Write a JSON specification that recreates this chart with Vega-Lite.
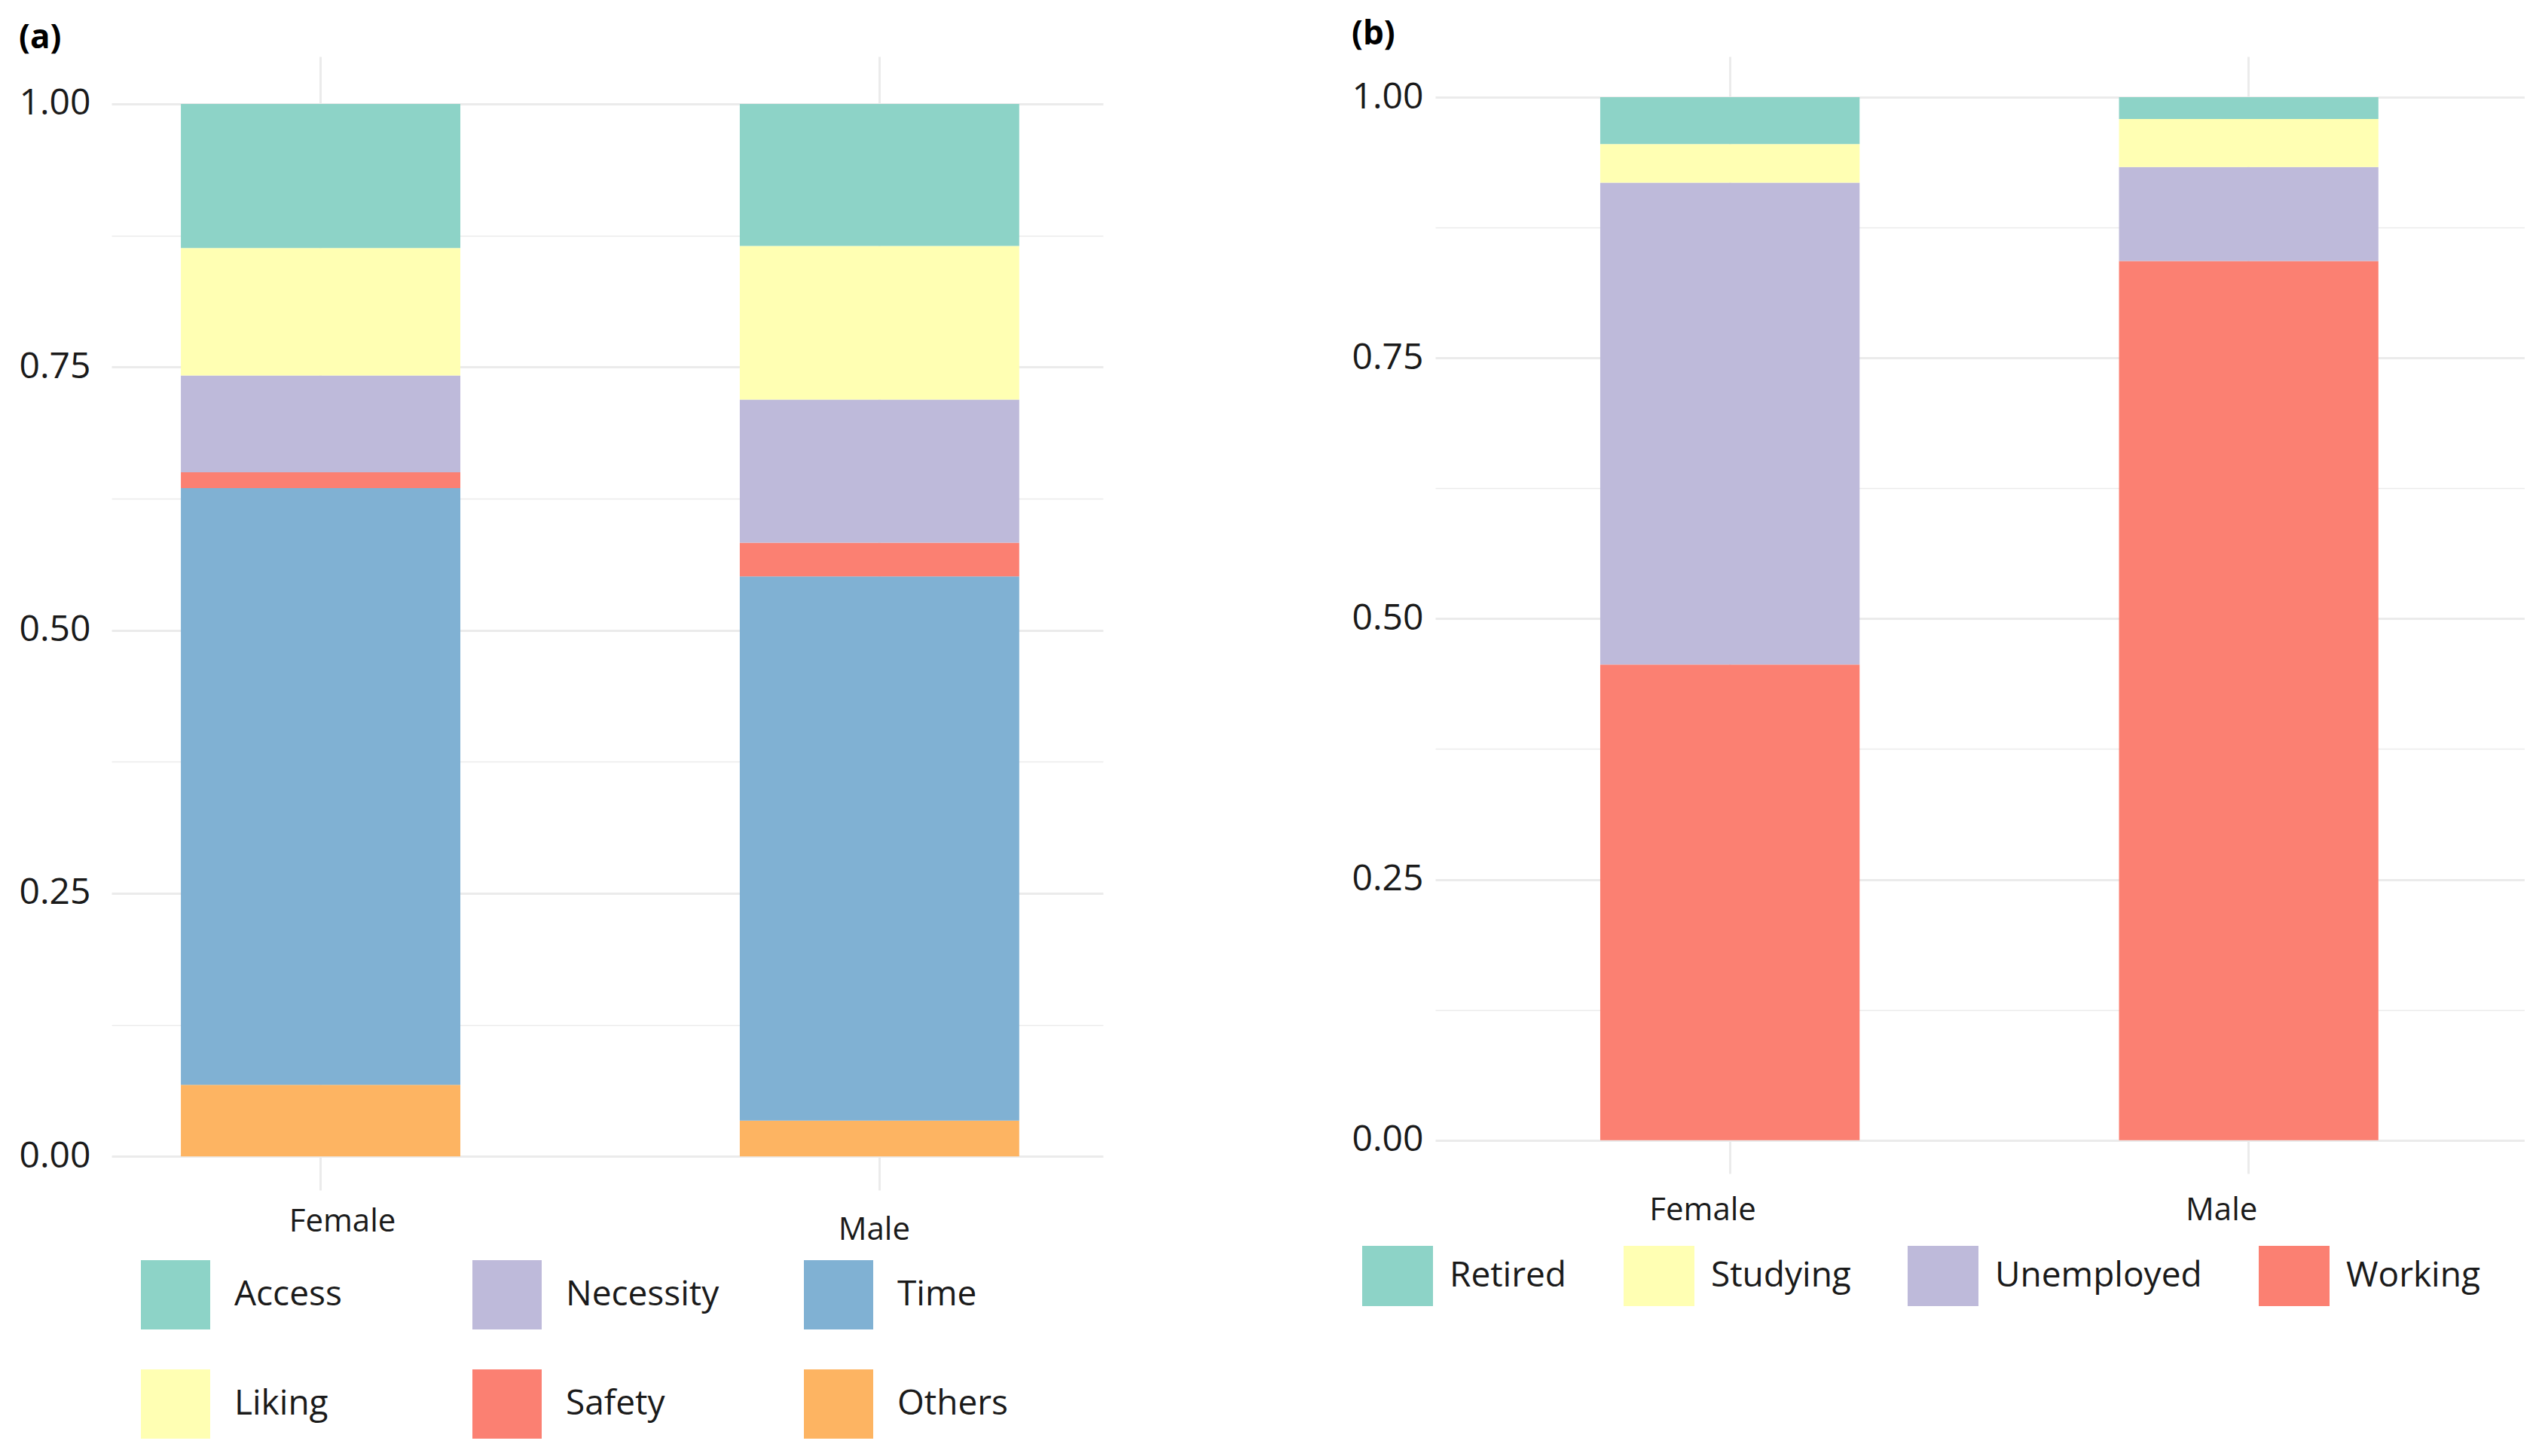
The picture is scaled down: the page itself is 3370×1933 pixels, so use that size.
{
  "$schema": "https://vega.github.io/schema/vega-lite/v6.json",
  "background": "white",
  "padding": {"left": 25, "top": 24, "right": 0, "bottom": 0},
  "spacing": 330,
  "resolve": {
    "scale": {"color": "independent"},
    "legend": {"color": "independent"}
  },
  "config": {
    "view": {"stroke": null},
    "font": "Open Sans",
    "axis": {
      "domain": false,
      "ticks": false,
      "labelFont": "Open Sans",
      "labelColor": "#1a1a1a",
      "gridColor": "#EBEBEB",
      "title": null
    },
    "legend": {
      "labelFont": "Open Sans",
      "labelColor": "#1a1a1a",
      "labelLimit": 500,
      "padding": 0
    },
    "title": {
      "font": "Open Sans",
      "fontSize": 44,
      "fontWeight": "bold",
      "color": "#000000",
      "anchor": "start",
      "frame": "bounds"
    }
  },
  "hconcat": [
    {
      "title": {"text": "(a)", "offset": 2},
      "width": 1316,
      "height": 1505,
      "data": {
        "values": [
          {"gender": "Female", "reason": "Others", "stack_order": 1, "share": 0.068},
          {"gender": "Female", "reason": "Time", "stack_order": 2, "share": 0.567},
          {"gender": "Female", "reason": "Safety", "stack_order": 3, "share": 0.015},
          {"gender": "Female", "reason": "Necessity", "stack_order": 4, "share": 0.092},
          {"gender": "Female", "reason": "Liking", "stack_order": 5, "share": 0.121},
          {"gender": "Female", "reason": "Access", "stack_order": 6, "share": 0.137},
          {"gender": "Male", "reason": "Others", "stack_order": 1, "share": 0.034},
          {"gender": "Male", "reason": "Time", "stack_order": 2, "share": 0.517},
          {"gender": "Male", "reason": "Safety", "stack_order": 3, "share": 0.032},
          {"gender": "Male", "reason": "Necessity", "stack_order": 4, "share": 0.136},
          {"gender": "Male", "reason": "Liking", "stack_order": 5, "share": 0.146},
          {"gender": "Male", "reason": "Access", "stack_order": 6, "share": 0.135}
        ]
      },
      "mark": {"type": "bar"},
      "encoding": {
        "x": {
          "field": "gender",
          "type": "nominal",
          "scale": {"paddingInner": 0.5, "paddingOuter": 0.137, "align": 0.453},
          "axis": {
            "labelAngle": 0,
            "labelFontSize": 42,
            "labelPadding": {"condition": {"test": "datum.value === 'Female'", "value": 21}, "value": 32},
            "labelOffset": {"condition": {"test": "datum.value === 'Female'", "value": 29}, "value": -7},
            "bandPosition": 0.5,
            "grid": true,
            "gridWidth": 3
          },
          "title": null
        },
        "y": {
          "field": "share",
          "type": "quantitative",
          "stack": "zero",
          "scale": {"domain": [-0.032, 1.045], "nice": false, "zero": false},
          "axis": {
            "values": [0, 0.125, 0.25, 0.375, 0.5, 0.625, 0.75, 0.875, 1],
            "labelExpr": "(datum.value * 4) % 1 === 0 ? format(datum.value, '.2f') : ''",
            "labelFontSize": 48,
            "labelPadding": 28,
            "gridWidth": {"condition": {"test": "(datum.value * 4) % 1 !== 0", "value": 1.5}, "value": 3}
          },
          "title": null
        },
        "color": {
          "field": "reason",
          "type": "nominal",
          "scale": {
            "domain": ["Access", "Necessity", "Time", "Liking", "Safety", "Others"],
            "range": ["#8DD3C7", "#BEBADA", "#80B1D3", "#FFFFB3", "#FB8072", "#FDB462"]
          },
          "legend": {
            "title": null,
            "orient": "none",
            "legendX": 39,
            "legendY": 1598,
            "direction": "horizontal",
            "columns": 3,
            "gridAlign": "all",
            "columnPadding": 112,
            "rowPadding": 53,
            "symbolType": "square",
            "symbolSize": 8464,
            "symbolStrokeWidth": 0,
            "labelFontSize": 46,
            "labelOffset": 32
          }
        },
        "order": {"field": "stack_order", "type": "quantitative"}
      }
    },
    {
      "title": {"text": "(b)", "offset": 7},
      "width": 1446,
      "height": 1483,
      "data": {
        "values": [
          {"gender": "Female", "status": "Working", "share": 0.456},
          {"gender": "Female", "status": "Unemployed", "share": 0.462},
          {"gender": "Female", "status": "Studying", "share": 0.037},
          {"gender": "Female", "status": "Retired", "share": 0.045},
          {"gender": "Male", "status": "Working", "share": 0.843},
          {"gender": "Male", "status": "Unemployed", "share": 0.090},
          {"gender": "Male", "status": "Studying", "share": 0.046},
          {"gender": "Male", "status": "Retired", "share": 0.021}
        ]
      },
      "mark": {"type": "bar"},
      "encoding": {
        "x": {
          "field": "gender",
          "type": "nominal",
          "scale": {"paddingInner": 0.5, "paddingOuter": 0.3, "align": 0.53},
          "axis": {
            "labelAngle": 0,
            "labelFontSize": 42,
            "labelPadding": 28,
            "labelOffset": -36,
            "bandPosition": 0.5,
            "grid": true,
            "gridWidth": 3
          },
          "title": null
        },
        "y": {
          "field": "share",
          "type": "quantitative",
          "stack": "zero",
          "scale": {"domain": [-0.032, 1.039], "nice": false, "zero": false},
          "axis": {
            "values": [0, 0.125, 0.25, 0.375, 0.5, 0.625, 0.75, 0.875, 1],
            "labelExpr": "(datum.value * 4) % 1 === 0 ? format(datum.value, '.2f') : ''",
            "labelFontSize": 48,
            "labelPadding": 16,
            "gridWidth": {"condition": {"test": "(datum.value * 4) % 1 !== 0", "value": 1.5}, "value": 3}
          },
          "title": null
        },
        "color": {
          "field": "status",
          "type": "nominal",
          "scale": {
            "domain": ["Retired", "Studying", "Unemployed", "Working"],
            "range": ["#8DD3C7", "#FFFFB3", "#BEBADA", "#FB8072"]
          },
          "legend": {
            "title": null,
            "orient": "none",
            "legendX": -97,
            "legendY": 1572,
            "direction": "horizontal",
            "columns": 4,
            "columnPadding": 75,
            "symbolType": "M-1,-0.85H1V0.85H-1Z",
            "symbolSize": 8836,
            "symbolStrokeWidth": 0,
            "labelFontSize": 46,
            "labelOffset": 22
          }
        },
        "order": {"field": "status", "type": "nominal", "sort": "descending"}
      }
    }
  ]
}
